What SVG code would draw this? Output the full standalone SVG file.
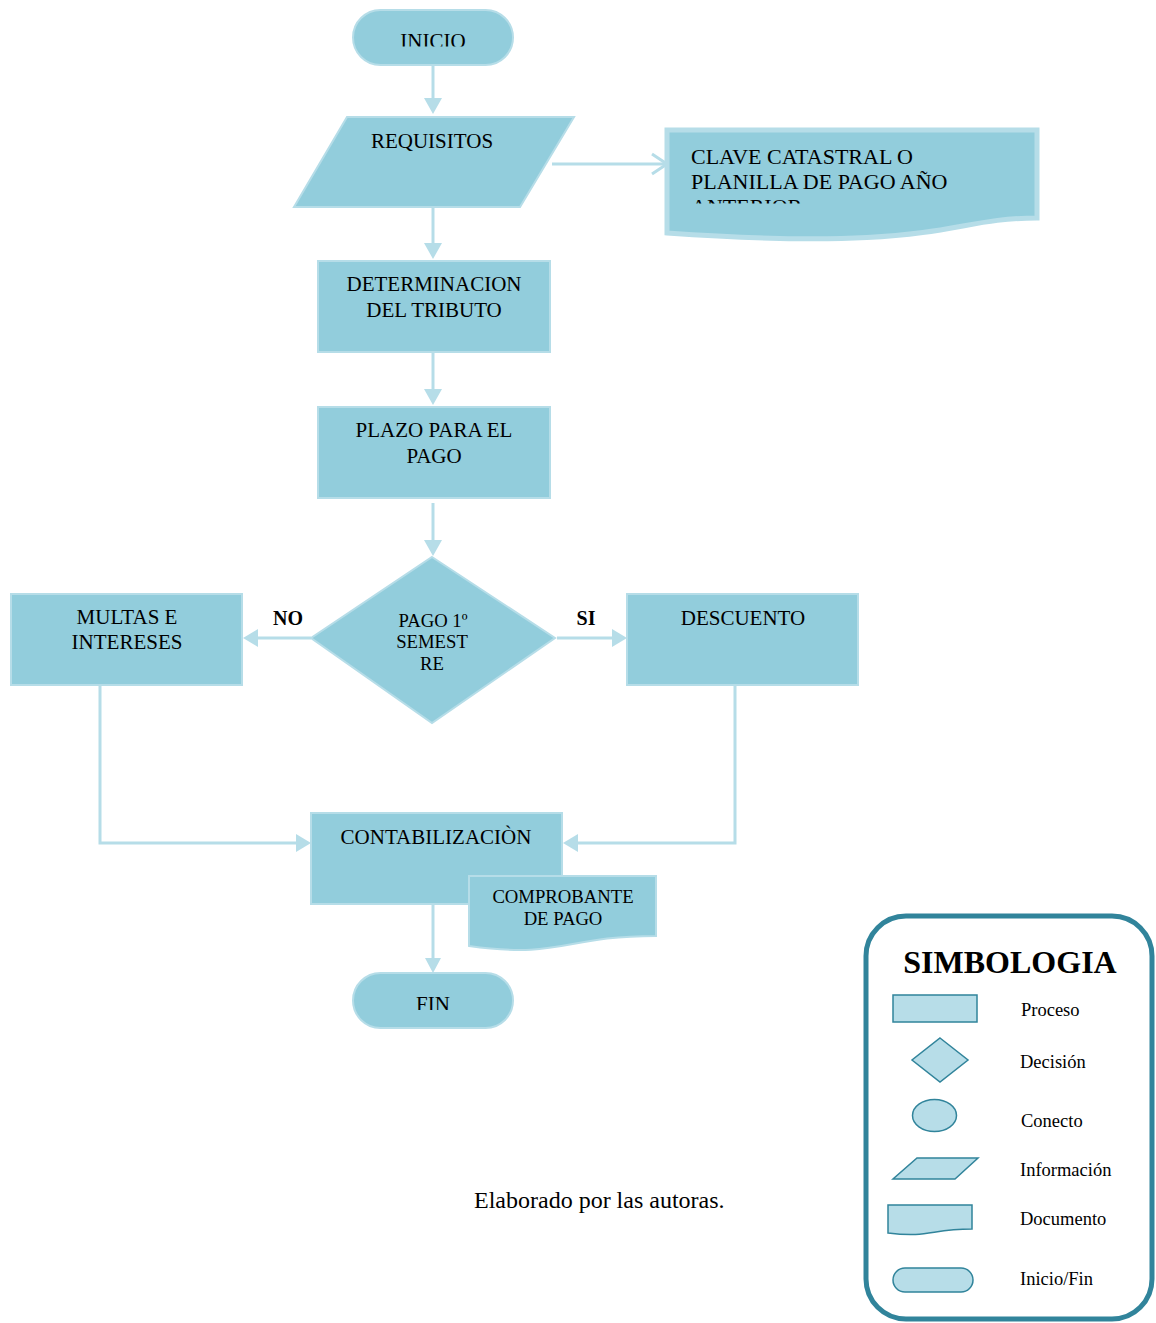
<svg xmlns="http://www.w3.org/2000/svg" width="1156" height="1323" viewBox="0 0 1156 1323">
<defs>
<style>
.box{fill:#92CDDC;stroke:#B6DDE8;stroke-width:2}
.doc{fill:#92CDDC;stroke:#B6DDE8;stroke-width:2}
.t{font-family:"Liberation Serif","Times New Roman",serif;font-size:21px;fill:#000;text-anchor:middle}
.tl{font-family:"Liberation Serif","Times New Roman",serif;font-size:22px;fill:#000;text-anchor:start}
.ts{font-family:"Liberation Serif","Times New Roman",serif;font-size:18.7px;fill:#000;text-anchor:middle}
.tb{font-family:"Liberation Serif","Times New Roman",serif;font-size:20px;font-weight:bold;fill:#000;text-anchor:middle}
.conn{fill:none;stroke:#B6DDE8;stroke-width:3}
.head{fill:#B6DDE8}
.lg{fill:#B7DDE8;stroke:#31849B;stroke-width:1.5}
.lt{font-family:"Liberation Serif","Times New Roman",serif;font-size:18.5px;fill:#000}
</style>
<clipPath id="clipInicio"><rect x="340" y="0" width="190" height="46.5"/></clipPath>
<clipPath id="clipFin"><rect x="340" y="960" width="190" height="50"/></clipPath>
<clipPath id="clipClave"><rect x="660" y="120" width="380" height="83.5"/></clipPath>
</defs>
<rect width="1156" height="1323" fill="#fff"/>

<g id="connectors">
  <line class="conn" x1="433" y1="65" x2="433" y2="100"/>
  <polygon class="head" points="424,98 442,98 433,114"/>
  <line class="conn" x1="433" y1="207" x2="433" y2="245"/>
  <polygon class="head" points="424,243 442,243 433,259"/>
  <line class="conn" x1="433" y1="352" x2="433" y2="391"/>
  <polygon class="head" points="424,389 442,389 433,405"/>
  <line class="conn" x1="433" y1="503" x2="433" y2="542"/>
  <polygon class="head" points="424,540 442,540 433,556"/>
  <line class="conn" x1="552" y1="164" x2="666" y2="164"/>
  <polyline class="conn" points="652,154 667,164 652,174" stroke-width="2.5"/>
  <line class="conn" x1="311" y1="638" x2="256" y2="638"/>
  <polygon class="head" points="258,629 258,647 243,638"/>
  <line class="conn" x1="557" y1="638" x2="614" y2="638"/>
  <polygon class="head" points="612,629 612,647 627,638"/>
  <polyline class="conn" points="100,685 100,843 298,843" stroke-width="2.5"/>
  <polygon class="head" points="296,834 296,852 311,843"/>
  <polyline class="conn" points="735,685 735,843 576,843" stroke-width="2.5"/>
  <polygon class="head" points="578,834 578,852 563,843"/>
  <line class="conn" x1="433" y1="904" x2="433" y2="960"/>
  <polygon class="head" points="425,958 441,958 433,973"/>
</g>

<g id="inicio">
  <rect class="box" x="353" y="10" width="160" height="55" rx="27.5"/>
  <text class="t" x="433" y="47.5" clip-path="url(#clipInicio)">INICIO</text>
</g>

<g id="requisitos">
  <polygon class="box" points="347,117 574,117 520,207 294,207"/>
  <text class="t" x="432" y="148">REQUISITOS</text>
</g>

<g id="clave">
  <path d="M667,130 H1037 V218 C945,218 945,252 667,233 Z" fill="#92CDDC" stroke="#B6DDE8" stroke-width="5"/>
  <g clip-path="url(#clipClave)">
    <text class="tl" x="691" y="164">CLAVE CATASTRAL O</text>
    <text class="tl" x="691" y="189">PLANILLA DE PAGO AÑO</text>
    <text class="tl" x="691" y="214">ANTERIOR</text>
  </g>
</g>

<g id="determinacion">
  <rect class="box" x="318" y="261" width="232" height="91"/>
  <text class="t" x="434" y="291">DETERMINACION</text>
  <text class="t" x="434" y="317">DEL TRIBUTO</text>
</g>

<g id="plazo">
  <rect class="box" x="318" y="407" width="232" height="91"/>
  <text class="t" x="434" y="437">PLAZO PARA EL</text>
  <text class="t" x="434" y="463">PAGO</text>
</g>

<g id="decision">
  <polygon class="box" points="432,557 555,638 432,723 311,638"/>
  <text class="ts" x="433" y="627">PAGO 1º</text>
  <text class="ts" x="432" y="648">SEMEST</text>
  <text class="ts" x="432" y="670">RE</text>
</g>

<g id="label-no"><text class="tb" x="288" y="625">NO</text></g>
<g id="label-si"><text class="tb" x="586" y="625">SI</text></g>

<g id="multas">
  <rect class="box" x="11" y="594" width="231" height="91"/>
  <text class="t" x="127" y="624">MULTAS E</text>
  <text class="t" x="127" y="649">INTERESES</text>
</g>

<g id="descuento">
  <rect class="box" x="627" y="594" width="231" height="91"/>
  <text class="t" x="743" y="625">DESCUENTO</text>
</g>

<g id="contabilizacion">
  <rect class="box" x="311" y="813" width="251" height="91"/>
  <text class="t" x="436" y="844">CONTABILIZACIÒN</text>
</g>

<g id="comprobante">
  <path class="doc" d="M469,876 H656 V936 C563,936 563,959 469,946 Z"/>
  <text class="ts" x="563" y="903">COMPROBANTE</text>
  <text class="ts" x="563" y="925">DE PAGO</text>
</g>

<g id="fin">
  <rect class="box" x="353" y="973" width="160" height="55" rx="27.5"/>
  <text class="t" x="433" y="1011" clip-path="url(#clipFin)">FIN</text>
</g>

<g id="caption">
  <text x="474" y="1208" font-family="Liberation Serif, Times New Roman, serif" font-size="24" fill="#000">Elaborado por las autoras.</text>
</g>

<g id="legend">
  <rect x="866" y="916" width="286" height="403" rx="40" fill="#fff" stroke="#31849B" stroke-width="5"/>
  <text x="1010" y="973" font-family="Liberation Serif, Times New Roman, serif" font-size="32" font-weight="bold" text-anchor="middle" fill="#000">SIMBOLOGIA</text>
  <rect class="lg" x="893" y="995" width="84" height="27"/>
  <text class="lt" x="1021" y="1016">Proceso</text>
  <polygon class="lg" points="940,1038 968,1060 940,1082 912,1060"/>
  <text class="lt" x="1020" y="1068">Decisión</text>
  <ellipse class="lg" cx="934.5" cy="1115.5" rx="22" ry="16"/>
  <text class="lt" x="1021" y="1127">Conecto</text>
  <polygon class="lg" points="917,1158 978,1158 955,1179 893,1179"/>
  <text class="lt" x="1020" y="1176">Información</text>
  <path class="lg" d="M888,1205 H972 V1229 C930,1229 930,1238 888,1233 Z"/>
  <text class="lt" x="1020" y="1225">Documento</text>
  <rect class="lg" x="893" y="1268" width="80" height="24" rx="12"/>
  <text class="lt" x="1020" y="1285">Inicio/Fin</text>
</g>
</svg>
